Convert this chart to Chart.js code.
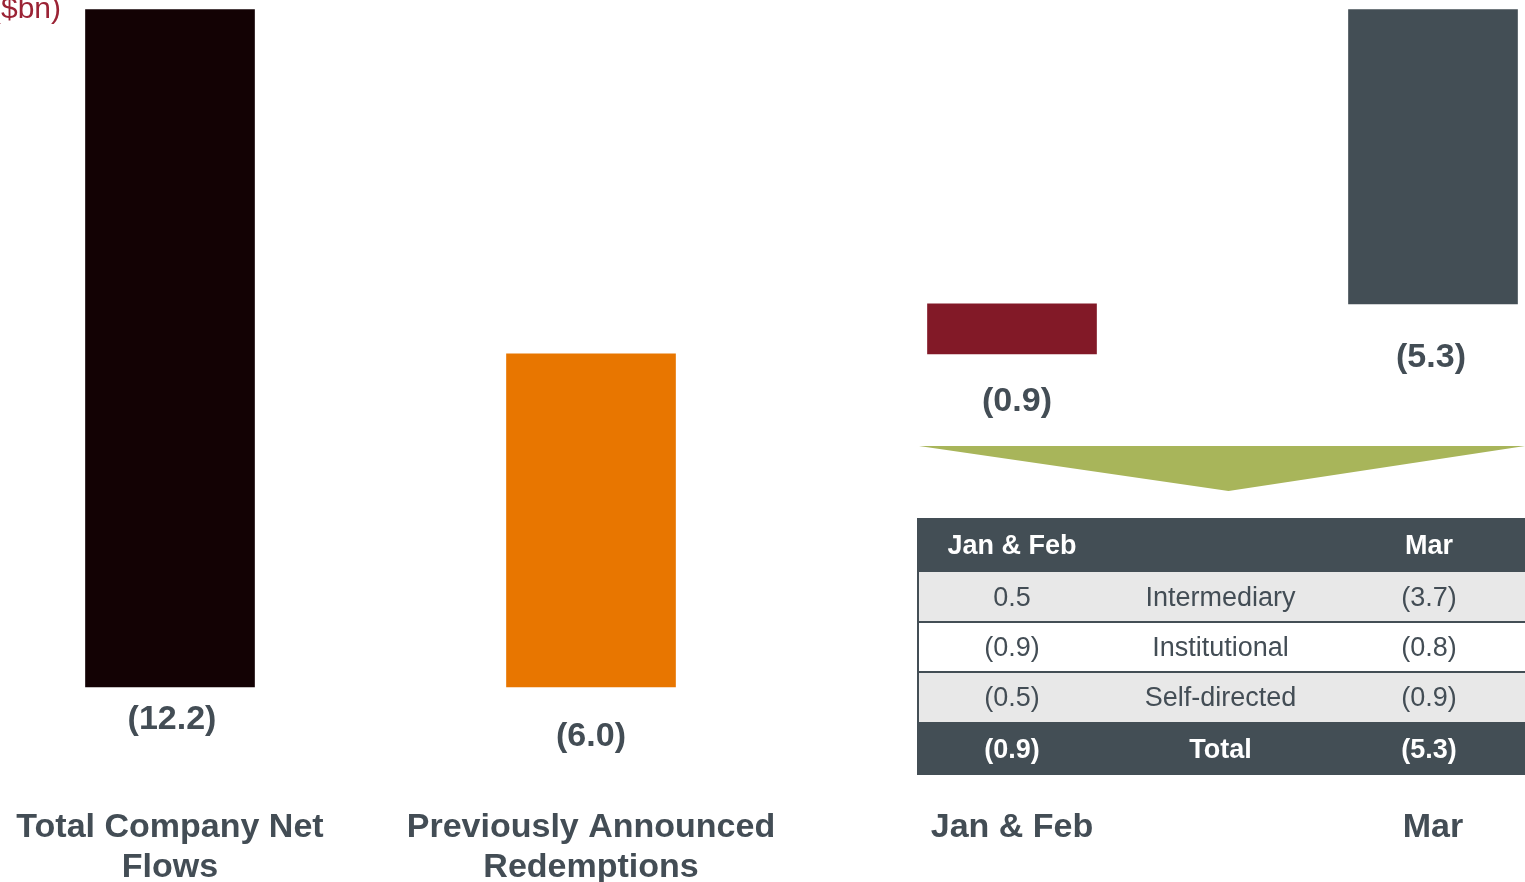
<!DOCTYPE html>
<html><head><meta charset="utf-8">
<script src="https://cdn.jsdelivr.net/npm/chart.js@4.4.0/dist/chart.umd.min.js"></script>
<style>html,body{margin:0;padding:0;background:#fff;overflow:hidden}canvas{display:block}</style>
</head><body>
<canvas id="c" width="1525" height="882"></canvas>
<script>
const categories = [['Total Company Net', 'Flows'], ['Previously Announced', 'Redemptions'], 'Jan & Feb', 'Mar'];
const flowChanges = [-12.2, 6.0, 0.9, 5.3];
const valueLabels = ['(12.2)', '(6.0)', '(0.9)', '(5.3)'];
const barColors = ['#130204', '#E87600', '#821927', '#434E55'];
const unitLabel = '($bn)';
const tableHeader = ['Jan & Feb', '', 'Mar'];
const tableSegments = ['Intermediary', 'Institutional', 'Self-directed'];
const tableJanFeb = ['0.5', '(0.9)', '(0.5)'];
const tableMar = ['(3.7)', '(0.8)', '(0.9)'];
const tableTotal = ['(0.9)', 'Total', '(5.3)'];

let running = 0;
const barRanges = flowChanges.map(v => { const r = [running, running + v]; running += v; return r; });

const TEXT = '#434D55';
const FONT = '"Liberation Sans", Arial, sans-serif';

const labelPlugin = {
  id: 'valueLabels',
  afterDatasetsDraw(chart, args, opts) {
    const ctx = chart.ctx;
    const meta = chart.getDatasetMeta(0);
    ctx.save();
    ctx.fillStyle = TEXT;
    ctx.font = 'bold 34px ' + FONT;
    ctx.textAlign = 'center';
    ctx.textBaseline = 'middle';
    meta.data.forEach((el, i) => {
      const lower = Math.max(el.y, el.base);
      ctx.fillText(valueLabels[i], el.x + opts.dx[i], lower + opts.dy[i]);
    });
    ctx.fillStyle = '#9B2335';
    ctx.font = '30px ' + FONT;
    ctx.textAlign = 'right';
    ctx.textBaseline = 'alphabetic';
    ctx.fillText(unitLabel, 61, 18);
    ctx.restore();
  }
};

const tablePlugin = {
  id: 'breakdownTable',
  afterDraw(chart) {
    const ctx = chart.ctx;
    const xs = chart.scales.x;
    const c1 = xs.getPixelForValue(2);
    const c3 = xs.getPixelForValue(3) - 4;
    const c2 = (c1 + c3) / 2;
    const left = c1 - 95;
    const right = chart.width;
    ctx.save();
    ctx.fillStyle = '#A8B55A';
    ctx.beginPath();
    ctx.moveTo(left + 2, 446);
    ctx.lineTo(right, 446);
    ctx.lineTo(c2 + 8, 491);
    ctx.closePath();
    ctx.fill();

    const top = 518;
    const rows = [
      {h: 54, bg: '#434E55', color: '#FFFFFF', bold: true, cells: tableHeader},
      {h: 50, bg: '#E8E8E8', color: TEXT, bold: false, cells: [tableJanFeb[0], tableSegments[0], tableMar[0]]},
      {h: 50, bg: '#FFFFFF', color: TEXT, bold: false, cells: [tableJanFeb[1], tableSegments[1], tableMar[1]]},
      {h: 50, bg: '#E8E8E8', color: TEXT, bold: false, cells: [tableJanFeb[2], tableSegments[2], tableMar[2]]},
      {h: 53, bg: '#434E55', color: '#FFFFFF', bold: true, cells: tableTotal}
    ];
    let y = top;
    const cols = [c1, c2, c3];
    rows.forEach(r => {
      ctx.fillStyle = r.bg;
      ctx.fillRect(left, y, right - left, r.h);
      ctx.fillStyle = r.color;
      ctx.font = (r.bold ? 'bold ' : '') + '27px ' + FONT;
      ctx.textAlign = 'center';
      ctx.textBaseline = 'middle';
      r.cells.forEach((t, ci) => { if (t) ctx.fillText(t, cols[ci], y + r.h / 2 + 2); });
      y += r.h;
    });
    ctx.strokeStyle = '#434E55';
    ctx.lineWidth = 2;
    [top + 54 + 50, top + 54 + 100].forEach(ly => {
      ctx.beginPath(); ctx.moveTo(left, ly); ctx.lineTo(right, ly); ctx.stroke();
    });
    ctx.beginPath(); ctx.moveTo(left + 1, top); ctx.lineTo(left + 1, y); ctx.stroke();
    ctx.restore();
  }
};

new Chart(document.getElementById('c'), {
  type: 'bar',
  data: {
    labels: categories,
    datasets: [{
      data: barRanges,
      backgroundColor: barColors,
      borderWidth: 0,
      barThickness: 169,
      clip: false
    }]
  },
  options: {
    responsive: false,
    animation: false,
    devicePixelRatio: 1,
    layout: {padding: {left: 170, right: 92, top: 9.5, bottom: 0}},
    plugins: {
      legend: {display: false},
      tooltip: {enabled: false},
      valueLabels: {dx: [2, 0, 5, -2], dy: [33, 50, 48, 54]}
    },
    scales: {
      x: {
        offset: false,
        grid: {display: false, drawTicks: false},
        border: {display: false},
        ticks: {
          autoSkip: false, maxRotation: 0, minRotation: 0, padding: 121,
          color: TEXT,
          font: {family: FONT, size: 34, weight: 'bold', lineHeight: 1.16}
        },
        afterFit(scale) { scale.height = 195; scale.paddingLeft = 0; scale.paddingRight = 0; }
      },
      y: {display: false, min: -12.2, max: 0}
    }
  },
  plugins: [labelPlugin, tablePlugin]
});
</script>
</body></html>
